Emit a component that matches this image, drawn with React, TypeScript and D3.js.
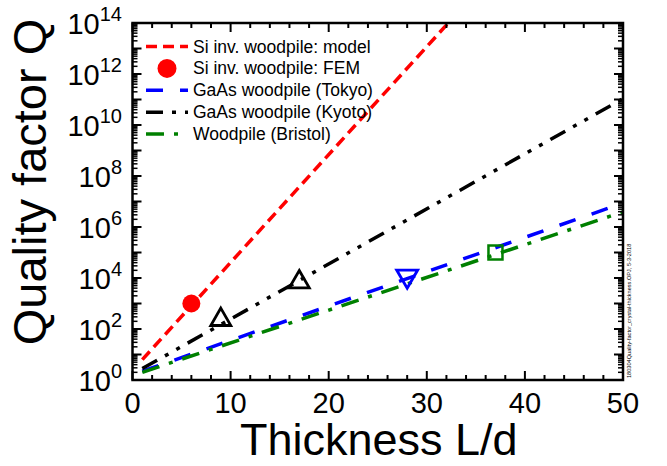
import React from 'react';
import * as d3 from 'd3';

const W = 667;
const H = 466;
const PL = 132.5, PR = 623, PT = 23, PB = 380;

// Axis ticks
const xMajorTicks = [0, 10, 20, 30, 40, 50];
const xMinorTicks = [2, 4, 6, 8, 12, 14, 16, 18, 22, 24, 26, 28, 32, 34, 36, 38, 42, 44, 46, 48];
const yDecades = [0, 1, 2, 3, 4, 5, 6, 7, 8, 9, 10, 11, 12, 13, 14];
const yLabelExps = [0, 2, 4, 6, 8, 10, 12, 14];

// Series (L/d, Q)
const modelL = [1, 33];
const modelQ = [6.3, 2.2e14];
const femL = [6];
const femQ = [1000];
const tokyoL = [1, 50];
const tokyoQ = [2.2, 8.7e6];
const tokyoPtL = [28];
const tokyoPtQ = [9000];
const kyotoL = [1, 50];
const kyotoQ = [2.8, 1.07e11];
const kyotoPtL = [9, 17];
const kyotoPtQ = [300, 9000];
const bristolL = [1, 50];
const bristolQ = [2.0, 3.9e6];
const bristolPtL = [37];
const bristolPtQ = [1e5];

const legendLabels = [
  'Si inv. woodpile: model',
  'Si inv. woodpile: FEM',
  'GaAs woodpile (Tokyo)',
  'GaAs woodpile (Kyoto)',
  'Woodpile (Bristol)',
];

const FONT = "'Liberation Sans', Arial, sans-serif";

const x = d3.scaleLinear().domain([0, 50]).range([PL, PR]);
const y = d3.scaleLog().domain([1, 1e14]).range([PB, PT]);

const line = d3
  .line<[number, number]>()
  .x((d) => x(d[0]))
  .y((d) => y(d[1]));

const zip = (a: number[], b: number[]) => a.map((v, i) => [v, b[i]] as [number, number]);

const styles = {
  model: { stroke: '#ff0000', dash: '11,6' },
  tokyo: { stroke: '#0000ff', dash: '17,17' },
  kyoto: { stroke: '#000000', dash: '17,9,4,9,4,9' },
  bristol: { stroke: '#008000', dash: '18,10,4,10' },
};
const LW = 3.5;

function triangle(cx: number, cy: number, s: number, down = false) {
  const h = s * 0.866;
  if (!down) {
    return `M${cx},${cy - h / 2}L${cx + s / 2},${cy + h / 2}L${cx - s / 2},${cy + h / 2}Z`;
  }
  return `M${cx},${cy + h / 2}L${cx + s / 2},${cy - h / 2}L${cx - s / 2},${cy - h / 2}Z`;
}

export default function App() {
  const minorY: number[] = [];
  yDecades.slice(0, -1).forEach((e) => {
    for (let k = 2; k <= 9; k++) minorY.push(k * Math.pow(10, e));
  });

  const legY = [46.5, 68.4, 90.3, 112.2, 134.1];
  const lx0 = 146, lx1 = 188, tx = 193;

  return (
    <svg
      width={W}
      height={H}
      style={{ position: 'absolute', left: 0, top: 0, background: '#fff' }}
      fontFamily={FONT}
    >
      <defs>
        <clipPath id="plotclip">
          <rect x={PL} y={PT} width={PR - PL} height={PB - PT} />
        </clipPath>
      </defs>
      <rect x={0} y={0} width={W} height={H} fill="#fff" />

      {/* series lines */}
      <g clipPath="url(#plotclip)" fill="none" strokeWidth={LW}>
        <path d={line(zip(modelL, modelQ)) || ''} stroke={styles.model.stroke} strokeDasharray={styles.model.dash} />
        <path d={line(zip(tokyoL, tokyoQ)) || ''} stroke={styles.tokyo.stroke} strokeDasharray={styles.tokyo.dash} />
        <path d={line(zip(kyotoL, kyotoQ)) || ''} stroke={styles.kyoto.stroke} strokeDasharray={styles.kyoto.dash} />
        <path d={line(zip(bristolL, bristolQ)) || ''} stroke={styles.bristol.stroke} strokeDasharray={styles.bristol.dash} />
      </g>

      {/* markers */}
      {femL.map((l, i) => (
        <circle key={'f' + i} cx={x(l)} cy={y(femQ[i])} r={9} fill="#ff0000" />
      ))}
      {kyotoPtL.map((l, i) => (
        <path key={'k' + i} d={triangle(x(l), y(kyotoPtQ[i]), 20)} fill="none" stroke="#000" strokeWidth={2.8} strokeLinejoin="miter" />
      ))}
      {tokyoPtL.map((l, i) => (
        <path key={'t' + i} d={triangle(x(l), y(tokyoPtQ[i]), 21, true)} fill="none" stroke="#0000ff" strokeWidth={2.8} />
      ))}
      {bristolPtL.map((l, i) => (
        <rect key={'b' + i} x={x(l) - 7} y={y(bristolPtQ[i]) - 7} width={14} height={14} fill="none" stroke="#008000" strokeWidth={2.5} />
      ))}

      {/* ticks */}
      <g stroke="#000" strokeWidth={2}>
        {xMajorTicks.map((t) => (
          <g key={'xm' + t}>
            <line x1={x(t)} x2={x(t)} y1={PB} y2={PB - 9} />
            <line x1={x(t)} x2={x(t)} y1={PT} y2={PT + 9} />
          </g>
        ))}
        {xMinorTicks.map((t) => (
          <g key={'xn' + t}>
            <line x1={x(t)} x2={x(t)} y1={PB} y2={PB - 5} />
            <line x1={x(t)} x2={x(t)} y1={PT} y2={PT + 5} />
          </g>
        ))}
        {yDecades.map((e) => (
          <g key={'ym' + e}>
            <line x1={PL} x2={PL + 9} y1={y(Math.pow(10, e))} y2={y(Math.pow(10, e))} />
            <line x1={PR} x2={PR - 9} y1={y(Math.pow(10, e))} y2={y(Math.pow(10, e))} />
          </g>
        ))}
        {minorY.map((v, i) => (
          <g key={'yn' + i} strokeWidth={1.5}>
            <line x1={PL} x2={PL + 5} y1={y(v)} y2={y(v)} />
            <line x1={PR} x2={PR - 5} y1={y(v)} y2={y(v)} />
          </g>
        ))}
      </g>

      {/* frame */}
      <rect x={PL} y={PT} width={PR - PL} height={PB - PT} fill="none" stroke="#000" strokeWidth={2.5} />

      {/* tick labels */}
      {xMajorTicks.map((t) => (
        <text key={'xl' + t} x={x(t)} y={413} textAnchor="middle" fontSize={29} fill="#000">
          {t}
        </text>
      ))}
      {yLabelExps.map((e) => (
        <text key={'yl' + e} x={122} y={y(Math.pow(10, e)) + 11} textAnchor="end" fontSize={29} fill="#000">
          10
          <tspan fontSize={20} dy={-13}>
            {e}
          </tspan>
        </text>
      ))}

      {/* axis titles */}
      <text x={(PL + PR) / 2 + 1} y={455} textAnchor="middle" fontSize={45} fill="#000">
        Thickness L/d
      </text>
      <text transform={`translate(46,182) rotate(-90)`} textAnchor="middle" fontSize={47} fill="#000">
        Quality factor Q
      </text>

      {/* legend */}
      <g fill="none" strokeWidth={LW}>
        <line x1={lx0} x2={lx1} y1={legY[0]} y2={legY[0]} stroke={styles.model.stroke} strokeDasharray={styles.model.dash} />
        <circle cx={(lx0 + lx1) / 2} cy={legY[1]} r={9.5} fill="#ff0000" stroke="none" />
        <line x1={lx0} x2={lx1} y1={legY[2]} y2={legY[2]} stroke={styles.tokyo.stroke} strokeDasharray={styles.tokyo.dash} />
        <line x1={lx0} x2={lx1} y1={legY[3]} y2={legY[3]} stroke={styles.kyoto.stroke} strokeDasharray={styles.kyoto.dash} />
        <line x1={lx0} x2={lx1} y1={legY[4]} y2={legY[4]} stroke={styles.bristol.stroke} strokeDasharray={styles.bristol.dash} />
      </g>
      {legendLabels.map((s, i) => (
        <text key={'lg' + i} x={tx} y={legY[i] + 6} fontSize={17.5} fill="#000">
          {s}
        </text>
      ))}

      {/* file stamp */}
      <text transform={`translate(631,378) rotate(-90)`} fontSize={5.6} fill="#000">
        180304Quality-factor_crystal-thickness.OPJ, 5-3-2018
      </text>
    </svg>
  );
}
